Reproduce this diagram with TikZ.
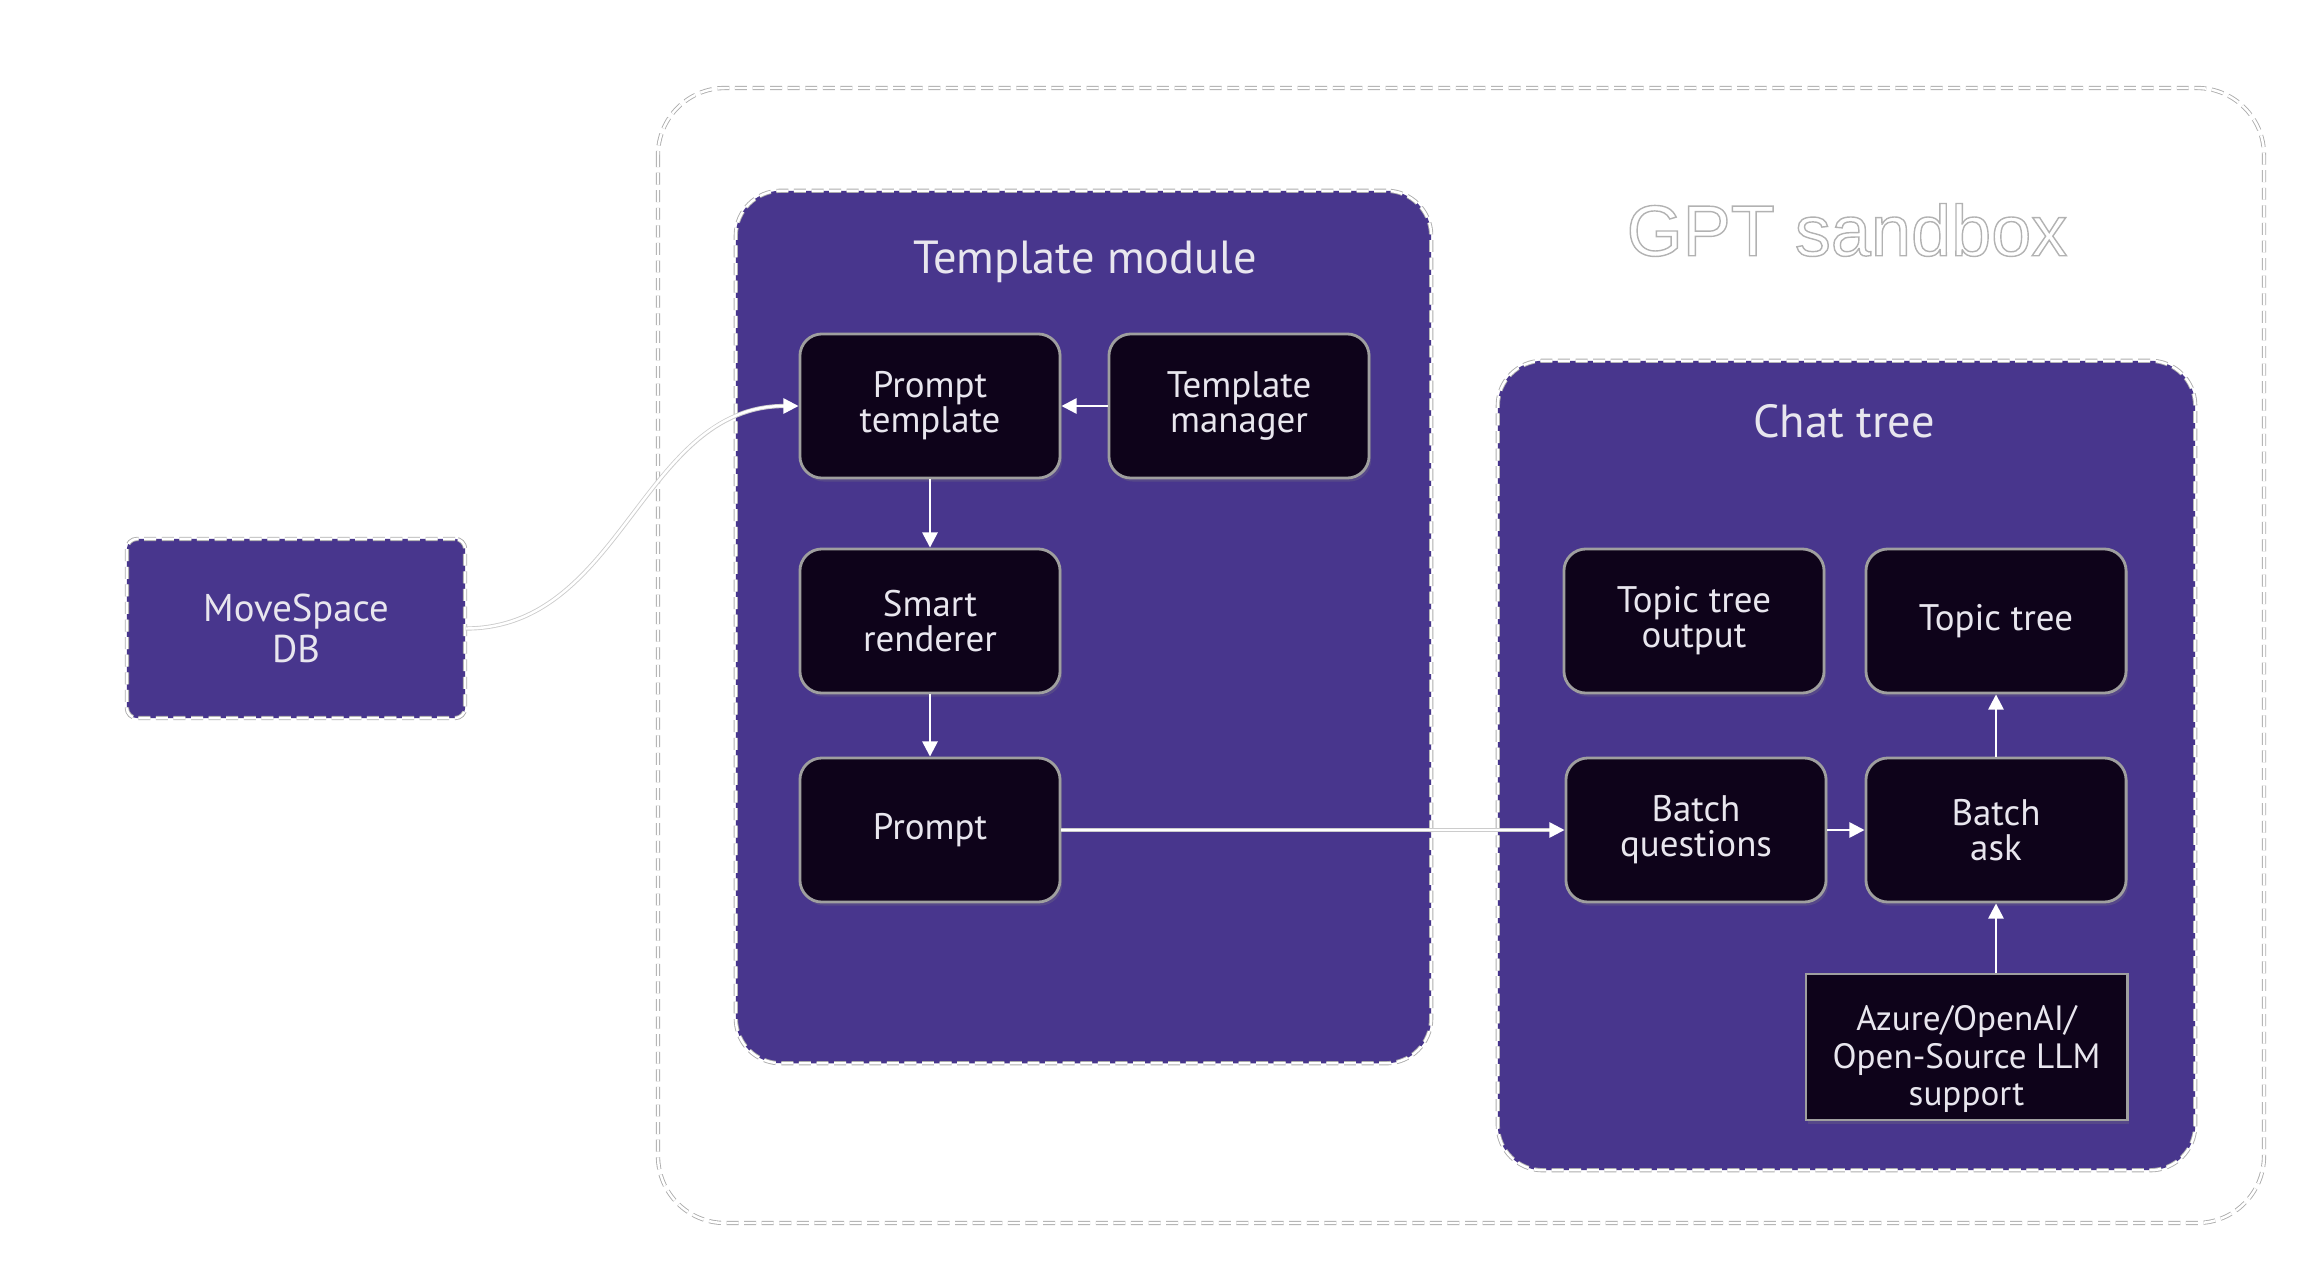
\documentclass[tikz,border=0pt]{standalone}
\usepackage{fontspec}
\setmainfont{PT Sans}
\newfontfamily\heros{Liberation Sans}
\usetikzlibrary{arrows.meta,shadows}

\definecolor{modpurple}{RGB}{72,54,141}
\definecolor{boxdark}{RGB}{14,3,26}
\definecolor{boxtext}{RGB}{232,230,238}

\begin{document}
\begin{tikzpicture}[x=0.01cm,y=-0.01cm]
\tikzset{
  dashline/.style={draw=gray!65, line width=0.25pt, double=white, double distance=0.7pt,
    dash pattern=on 3.4pt off 1.6pt},
  module/.style={dashline, fill=modpurple, text=boxtext},
  block/.style={draw=gray!75, line width=0.8pt, fill=boxdark, rounded corners=0.22cm,
    text=boxtext, align=center, minimum width=2.6cm, minimum height=1.44cm,
    font=\fontsize{10.5}{10}\selectfont,
    drop shadow={opacity=0.25, shadow xshift=0.6pt, shadow yshift=-1pt}},
  title/.style={text=boxtext, font=\fontsize{13.2}{16}\selectfont},
  under/.style={draw=gray!40, line width=1.2pt, shorten >=4pt},
  flow/.style={draw=white, line width=0.7pt, -{Triangle[length=4.3pt,width=4.3pt]}},
}
\useasboundingbox (0,0) rectangle (2308,1260);
% Sandbox frame
\draw[dashline, rounded corners=0.67cm] (658,88) rectangle (2264,1223);
\begin{scope}
\node[font=\heros\fontsize{20.5}{24}\selectfont, text=gray!60] (sandbox) at (1847,230)
  {\special{pdf:literal direct 1 Tr 0.4 w}GPT sandbox\special{pdf:literal direct 0 Tr}};
\end{scope}
% Modules
\node[module, rounded corners=0.45cm, minimum width=6.95cm, minimum height=8.72cm] (tmod) at (1083.5,627) {};
\node[module, rounded corners=0.45cm, minimum width=6.97cm, minimum height=8.09cm] (chat) at (1846.5,765.5) {};
\node[module, rounded corners=0.1cm, minimum width=3.38cm, minimum height=1.79cm, align=center,
  font=\fontsize{11}{11.7}\selectfont] (db) at (296,628.5) {MoveSpace\\DB};
\node[title] (tmodlbl) at (1085,262) {Template module};
\node[title] (chatlbl) at (1844,421) {Chat tree};
% Blocks
\foreach \n/\p/\t in {ptpl/{930,406}/{Prompt\\template}, tmgr/{1239,406}/{Template\\manager},
    srend/{930,621}/{Smart\\renderer}, prompt/{930,830}/{Prompt},
    ttout/{1694,621}/{Topic tree\\output}, ttree/{1996,621}/{Topic tree},
    bquest/{1696,830}/{Batch\\questions}, bask/{1996,830}/{Batch\\ask}}
  \node[block] (\n) at (\p) {\t};
\node[block, sharp corners, minimum width=3.21cm, minimum height=1.46cm] (azure) at (1966.5,1047) {};
\node[text=boxtext, align=center, font=\fontsize{10}{10.6}\selectfont] (azuretxt)
  at ([yshift=-0.12cm]azure) {Azure/OpenAI/\\Open-Source LLM\\support};
% Connectors
\draw[under] (db.east) to[out=0, in=180] (ptpl.west);
\draw[flow] (db.east) to[out=0, in=180] (ptpl.west);
\foreach \a/\b in {tmgr/ptpl, ptpl/srend, srend/prompt, bquest/bask, bask/ttree}
  \draw[flow] (\a) -- (\b);
\draw[under] (prompt) -- (bquest);
\draw[flow] (prompt) -- (bquest);
\draw[flow] (azure.north -| bask) -- (bask.south);
\end{tikzpicture}
\end{document}
